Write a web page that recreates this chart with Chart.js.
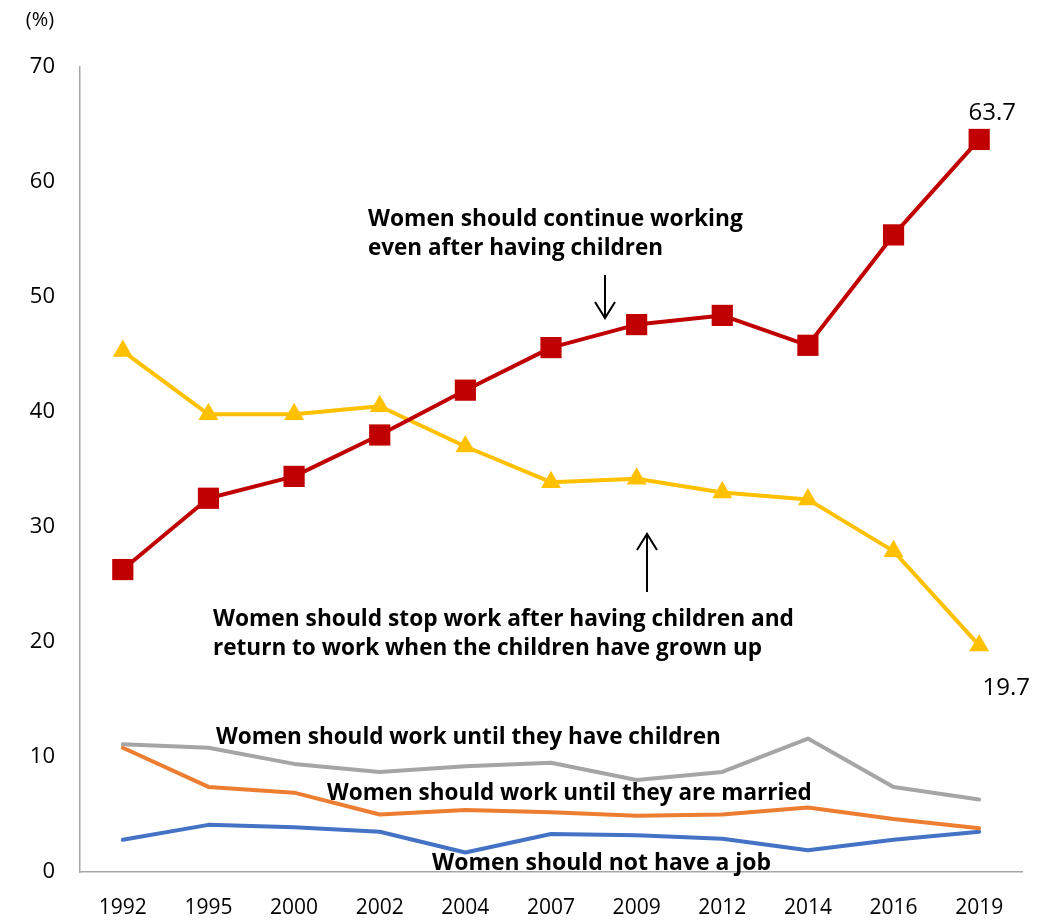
<!DOCTYPE html>
<html>
<head>
<meta charset="utf-8">
<script src="https://cdn.jsdelivr.net/npm/chart.js@4.4.1/dist/chart.umd.min.js"></script>
<style>
html,body{margin:0;padding:0;background:#fff;}
canvas{display:block;}
</style>
</head>
<body>
<canvas id="c" width="1058" height="920"></canvas>
<script>
const years = ['1992','1995','2000','2002','2004','2007','2009','2012','2014','2016','2019'];
const continueWorking = [26.3,32.5,34.4,38.0,41.9,45.6,47.6,48.4,45.8,55.4,63.7];
const stopAndReturn   = [45.3,39.8,39.8,40.5,37.0,33.9,34.2,33.0,32.4,27.9,19.7];
const untilChildren   = [11.1,10.8,9.4,8.7,9.2,9.5,8.0,8.7,11.6,7.4,6.3];
const untilMarried    = [10.8,7.4,6.9,5.0,5.4,5.2,4.9,5.0,5.6,4.6,3.8];
const noJob           = [2.8,4.1,3.9,3.5,1.7,3.3,3.2,2.9,1.9,2.8,3.5];
const yTicks = [0,10,20,30,40,50,60,70];

const FONT = '"Open Sans", "Noto Sans", sans-serif';

const annotations = [
  {text:'Women should continue working', x:368, y:226, w:375},
  {text:'even after having children', x:368, y:255, w:295},
  {text:'Women should stop work after having children and', x:213, y:626, w:581},
  {text:'return to work when the children have grown up', x:213, y:655, w:549},
  {text:'Women should work until they have children', x:216, y:744, w:505},
  {text:'Women should work until they are married', x:327, y:800, w:485},
  {text:'Women should not have a job', x:432, y:870, w:339}
];

const overlay = {
  id:'overlay',
  afterDatasetsDraw(chart){
    const ctx = chart.ctx;
    ctx.save();
    ctx.fillStyle = '#000';
    ctx.font = '20px ' + FONT;
    ctx.textAlign = 'center';
    ctx.textBaseline = 'middle';
    ctx.fillText('(%)', 40, 20);
    ctx.textAlign = 'left';
    ctx.textBaseline = 'alphabetic';
    annotations.forEach(a => {
      ctx.font = 'bold 21px ' + FONT;
      const m = ctx.measureText(a.text).width;
      const size = Math.min(24, 21 * a.w / m);
      ctx.font = 'bold ' + size.toFixed(2) + 'px ' + FONT;
      ctx.fillText(a.text, a.x, a.y, a.w);
    });
    ctx.strokeStyle = '#000';
    ctx.lineWidth = 2;
    function arrow(x, y1, y2){
      const dir = y2 > y1 ? 1 : -1;
      ctx.beginPath();
      ctx.moveTo(x, y1); ctx.lineTo(x, y2);
      ctx.moveTo(x - 10, y2 - dir*16); ctx.lineTo(x, y2); ctx.lineTo(x + 10, y2 - dir*16);
      ctx.stroke();
    }
    arrow(605, 275, 318);
    arrow(647, 592, 534);
    ctx.font = '24px ' + FONT;
    ctx.textAlign = 'center';
    const n = years.length - 1;
    const red = chart.getDatasetMeta(0).data[n];
    const yel = chart.getDatasetMeta(1).data[n];
    ctx.fillText(continueWorking[n].toFixed(1), red.x + 13, red.y - 19);
    ctx.fillText(stopAndReturn[n].toFixed(1), yel.x + 27, yel.y + 50);
    ctx.restore();
  }
};

new Chart(document.getElementById('c'), {
  type:'line',
  data:{
    labels: years,
    datasets:[
      {data:continueWorking, borderColor:'#C00000', backgroundColor:'#C00000', borderWidth:4, pointStyle:'rect', pointRadius:15, pointBorderWidth:0, order:1},
      {data:stopAndReturn, borderColor:'#FFC000', backgroundColor:'#FFC000', borderWidth:4, pointStyle:'triangle', pointRadius:11.5, pointBorderWidth:0, order:2},
      {data:untilChildren, borderColor:'#A5A5A5', borderWidth:4, pointRadius:0, order:3},
      {data:untilMarried, borderColor:'#ED7D31', borderWidth:4, pointRadius:0, order:4},
      {data:noJob, borderColor:'#4472C4', borderWidth:4, pointRadius:0, order:5}
    ]
  },
  options:{
    responsive:false,
    animation:false,
    devicePixelRatio:1,
    layout:{padding:{left:0, top:67, right:36, bottom:0}},
    plugins:{legend:{display:false}, tooltip:{enabled:false}},
    elements:{line:{tension:0, borderCapStyle:'round', borderJoinStyle:'round'}},
    scales:{
      x:{
        offset:true,
        grid:{display:false, drawTicks:false},
        border:{display:true, color:'#A6A6A6', width:1.5},
        ticks:{color:'#000', font:{family:FONT, size:21}, padding:23, maxRotation:0, autoSkip:false},
        afterFit(s){ s.height = 48; }
      },
      y:{
        min:0, max:70,
        afterBuildTicks(s){ s.ticks = yTicks.map(v => ({value:v})); },
        grid:{display:false, drawTicks:false},
        border:{display:true, color:'#A6A6A6', width:1.5},
        ticks:{color:'#000', font:{family:FONT, size:22}, padding:25},
        afterFit(s){ s.width = 80; }
      }
    }
  },
  plugins:[overlay]
});
</script>
</body>
</html>
